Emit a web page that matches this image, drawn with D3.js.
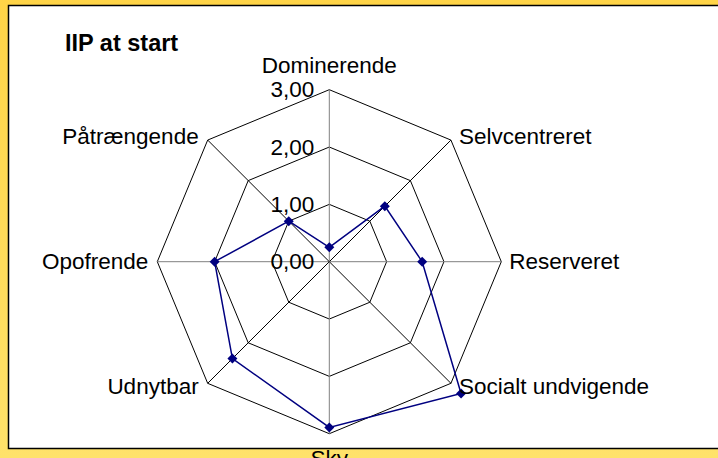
<!DOCTYPE html>
<html>
<head>
<meta charset="utf-8">
<script src="https://cdn.jsdelivr.net/npm/d3@7"></script>
<style>
  html, body { margin: 0; padding: 0; background: #ffd84f; }
  svg { display: block; font-family: "Liberation Sans", Arial, sans-serif; }
</style>
</head>
<body>
<div id="chart"></div>
<script>
// data
const categories = ["Dominerende", "Selvcentreret", "Reserveret", "Socialt undvigende",
  "Sky", "Udnytbar", "Opofrende", "Påtrængende"];
const values = [0.25, 1.37, 1.62, 3.25, 2.89, 2.39, 2.0, 1.0];
const ticks = [0, 1, 2, 3];
const title = "IIP at start";

const width = 718, height = 458;
const cx = 329.3, cy = 261.7;

const svg = d3.select("#chart").append("svg")
  .attr("width", width)
  .attr("height", height);

/* ---------- background ---------- */
const defs = svg.append("defs");
const grad = defs.append("linearGradient")
  .attr("id", "bg").attr("x1", 0).attr("y1", 0).attr("x2", 0).attr("y2", 1);
grad.append("stop").attr("offset", "0%").attr("stop-color", "#ffd447");
grad.append("stop").attr("offset", "100%").attr("stop-color", "#ffe26a");

svg.append("rect").attr("width", width).attr("height", height).attr("fill", "url(#bg)");

svg.append("rect")
  .attr("x", 8.5).attr("y", 5.5)
  .attr("width", width).attr("height", 443)
  .attr("fill", "#ffffff")
  .attr("stroke", "#000000")
  .attr("stroke-width", 1.5);

/* ---------- scales ---------- */
const r = d3.scaleLinear().domain([0, 3]).range([0, 172]);
const angle = d3.scalePoint()
  .domain(categories)
  .range([0, 2 * Math.PI * (categories.length - 1) / categories.length]);

function pt(cat, v) {
  const a = angle(cat);
  return [cx + r(v) * Math.sin(a), cy - r(v) * Math.cos(a)];
}

const g = svg.append("g");

/* ---------- grid ---------- */
ticks.filter(t => t > 0).forEach(t => {
  g.append("path")
    .attr("d", d3.line()(categories.map(c => pt(c, t))) + "Z")
    .attr("fill", "none")
    .attr("stroke", "#000000")
    .attr("stroke-width", 1);
});

categories.forEach(c => {
  const a = angle(c);
  const straight = Math.abs(Math.sin(a)) < 0.01 || Math.abs(Math.cos(a)) < 0.01;
  const [x, y] = pt(c, 3);
  g.append("line")
    .attr("x1", cx).attr("y1", cy).attr("x2", x).attr("y2", y)
    .attr("stroke", straight ? "#808080" : "#000000")
    .attr("stroke-width", 1);
});

/* ---------- series ---------- */
g.append("path")
  .attr("d", d3.line()(categories.map((c, i) => pt(c, values[i]))) + "Z")
  .attr("fill", "none")
  .attr("stroke", "#000080")
  .attr("stroke-width", 1.5);

g.selectAll(".marker")
  .data(categories)
  .enter()
  .append("path")
  .attr("class", "marker")
  .attr("transform", (c, i) => "translate(" + pt(c, values[i]) + ")")
  .attr("d", "M0,-5L5,0L0,5L-5,0Z")
  .attr("fill", "#000080");

/* ---------- tick labels ---------- */
g.selectAll(".tick")
  .data(ticks)
  .enter()
  .append("text")
  .attr("class", "tick")
  .attr("x", cx - 15)
  .attr("y", d => cy - r(d) + 7.5)
  .attr("text-anchor", "end")
  .attr("font-size", 22.5)
  .text(d => d3.format(".2f")(d).replace(".", ","));

/* ---------- category labels ---------- */
g.selectAll(".cat")
  .data(categories)
  .enter()
  .append("text")
  .attr("class", "cat")
  .attr("font-size", 22.5)
  .attr("text-anchor", c => {
    const s = Math.sin(angle(c));
    return Math.abs(s) < 0.01 ? "middle" : (s > 0 ? "start" : "end");
  })
  .attr("x", c => {
    const s = Math.sin(angle(c));
    const [x] = pt(c, 3);
    return Math.abs(s) < 0.01 ? x : x + (s > 0 ? 8 : -9);
  })
  .attr("y", c => {
    const co = Math.cos(angle(c));
    const [, y] = pt(c, 3);
    if (co > 0.99) return y - 17;
    if (co < -0.99) return y + 32;
    return y + 7.5 - 5 * co;
  })
  .text(c => c);

/* ---------- title ---------- */
svg.append("text")
  .attr("x", 65)
  .attr("y", 51)
  .attr("font-size", 23.5)
  .attr("font-weight", "bold")
  .text(title);
</script>
</body>
</html>
